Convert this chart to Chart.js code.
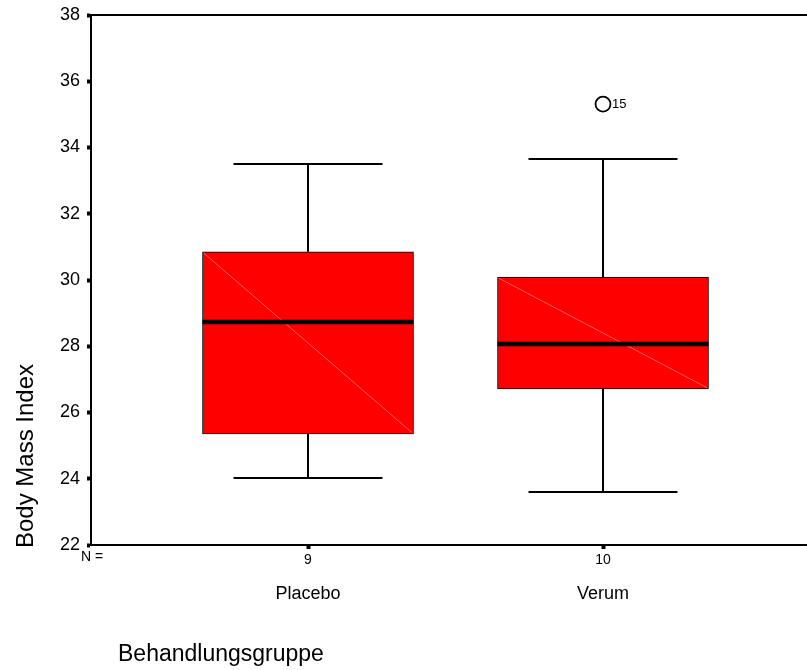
<!DOCTYPE html>
<html>
<head>
<meta charset="utf-8">
<script src="https://cdn.jsdelivr.net/npm/chart.js@4.4.0/dist/chart.umd.min.js"></script>
<style>
  body { margin: 0; background: #fff; }
  canvas { display: block; }
</style>
</head>
<body>
<canvas id="box" width="807" height="670"></canvas>
<script>
// groups and box plot statistics
const groups = ['Placebo', 'Verum'];
const nCounts = ['9', '10'];
const whiskerLow = [24.02, 23.6];
const q1 = [25.35, 26.71];
const median = [28.73, 28.07];
const q3 = [30.85, 30.09];
const whiskerHigh = [33.5, 33.65];
const outliers = [{ group: 2, value: 35.31, label: '15' }];
const yTicks = [22, 24, 26, 28, 30, 32, 34, 36, 38];

const font = '"Liberation Sans", Arial, sans-serif';
const xMin = 0.2644, xMax = 2.6915;

const boxData = groups.map((g, i) => ({ x: i + 1, y: [q1[i], q3[i]] }));
const outlierData = outliers.map(o => ({ x: o.group, y: o.value }));

// whiskers, median, diagonal artefact, labels
const boxPlugin = {
  id: 'boxExtras',
  afterDatasetsDraw(chart) {
    const ctx = chart.ctx;
    const y = chart.scales.y;
    const meta = chart.getDatasetMeta(0);
    ctx.save();
    meta.data.forEach((bar, i) => {
      const left = bar.x - bar.width / 2;
      const right = bar.x + bar.width / 2;
      const top = y.getPixelForValue(q3[i]);
      const bottom = y.getPixelForValue(q1[i]);
      // faint diagonal
      ctx.strokeStyle = 'rgba(255,150,150,0.9)';
      ctx.lineWidth = 0.7;
      ctx.beginPath();
      ctx.moveTo(left + 1, top + 1);
      ctx.lineTo(right - 1, bottom - 1);
      ctx.stroke();
      // median
      ctx.strokeStyle = '#000';
      ctx.lineWidth = 4.5;
      ctx.beginPath();
      ctx.moveTo(left, y.getPixelForValue(median[i]));
      ctx.lineTo(right, y.getPixelForValue(median[i]));
      ctx.stroke();
      // whiskers
      const capHalf = bar.width * 0.353;
      const hi = y.getPixelForValue(whiskerHigh[i]);
      const lo = y.getPixelForValue(whiskerLow[i]);
      ctx.lineWidth = 2;
      ctx.beginPath();
      ctx.moveTo(bar.x, top); ctx.lineTo(bar.x, hi);
      ctx.moveTo(bar.x, bottom); ctx.lineTo(bar.x, lo);
      ctx.moveTo(bar.x - capHalf, hi); ctx.lineTo(bar.x + capHalf, hi);
      ctx.moveTo(bar.x - capHalf, lo); ctx.lineTo(bar.x + capHalf, lo);
      ctx.stroke();
    });
    // outlier case labels
    const pts = chart.getDatasetMeta(1).data;
    ctx.fillStyle = '#000';
    ctx.font = '13px ' + font;
    ctx.textAlign = 'left';
    ctx.textBaseline = 'middle';
    pts.forEach((p, i) => ctx.fillText(outliers[i].label, p.x + 9, p.y));
    ctx.restore();
  },
  afterDraw(chart) {
    const ctx = chart.ctx;
    const a = chart.chartArea;
    ctx.save();
    // top frame line
    ctx.strokeStyle = '#000';
    ctx.lineWidth = 2;
    ctx.beginPath();
    ctx.moveTo(a.left, a.top);
    ctx.lineTo(chart.width, a.top);
    ctx.stroke();
    ctx.fillStyle = '#000';
    ctx.textBaseline = 'middle';
    ctx.font = '14px ' + font;
    ctx.textAlign = 'left';
    ctx.fillText('N =', 81, 557);
    ctx.font = '23px ' + font;
    ctx.fillText('Behandlungsgruppe', 118, 655);
    ctx.font = '24px ' + font;
    ctx.translate(26, 456);
    ctx.rotate(-Math.PI / 2);
    ctx.textAlign = 'center';
    ctx.fillText('Body Mass Index', 0, 0);
    ctx.restore();
  }
};

const fixTicks = scale => { scale.ticks = groups.map((g, i) => ({ value: i + 1 })); };
const noPad = s => { s.paddingLeft = 0; s.paddingRight = 0; s.paddingTop = 0; s.paddingBottom = 0; };

new Chart(document.getElementById('box'), {
  type: 'bar',
  data: {
    datasets: [
      {
        data: boxData,
        backgroundColor: '#ff0000',
        borderColor: '#000',
        borderWidth: 1,
        borderSkipped: false,
        barThickness: 211
      },
      {
        type: 'scatter',
        data: outlierData,
        pointRadius: 7.5,
        pointBackgroundColor: '#fff',
        pointBorderColor: '#000',
        pointBorderWidth: 1.8
      }
    ]
  },
  options: {
    responsive: false,
    animation: false,
    layout: { autoPadding: false, padding: { top: 15, left: 0, right: 0, bottom: 0 } },
    plugins: { legend: { display: false }, tooltip: { enabled: false } },
    scales: {
      x: {
        type: 'linear',
        min: xMin,
        max: xMax,
        offset: false,
        afterBuildTicks: fixTicks,
        afterFit: s => { s.height = 27; noPad(s); },
        grid: { drawOnChartArea: false, offset: false, tickLength: 4, tickWidth: 4, tickColor: '#000' },
        border: { display: true, color: '#000', width: 2 },
        ticks: {
          padding: 3,
          color: '#000',
          font: { family: font, size: 14 },
          callback: v => nCounts[v - 1]
        }
      },
      x2: {
        type: 'linear',
        position: 'bottom',
        min: xMin,
        max: xMax,
        offset: false,
        afterBuildTicks: fixTicks,
        afterFit: s => { s.height = 98; noPad(s); },
        grid: { display: false },
        border: { display: false },
        ticks: {
          padding: 3,
          color: '#000',
          font: { family: font, size: 18 },
          callback: v => groups[v - 1]
        }
      },
      y: {
        min: 22,
        max: 38,
        afterBuildTicks: s => { s.ticks = yTicks.map(v => ({ value: v })); },
        afterFit: s => { s.width = 91; noPad(s); },
        grid: { drawOnChartArea: false, tickLength: 4, tickWidth: 4, tickColor: '#000' },
        border: { display: true, color: '#000', width: 2 },
        ticks: {
          padding: 7,
          color: '#000',
          font: { family: font, size: 18 }
        }
      }
    }
  },
  plugins: [boxPlugin]
});
</script>
</body>
</html>
